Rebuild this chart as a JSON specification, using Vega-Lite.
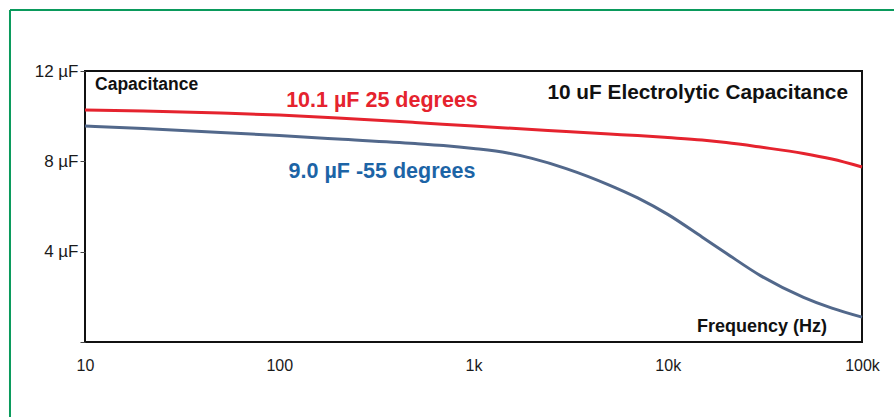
{
  "$schema": "https://vega.github.io/schema/vega-lite/v6.json",
  "autosize": {"type": "none"},
  "width": 777,
  "height": 271,
  "padding": {"left": 85, "top": 71, "right": 32, "bottom": 75},
  "background": "white",
  "config": {
    "font": "Liberation Sans",
    "view": {"stroke": "#111", "strokeWidth": 2},
    "axis": {"grid": false, "labelFont": "Liberation Sans", "labelColor": "#1a1a1a", "labelFontSize": 16}
  },
  "datasets": {
    "curves": [
      {"freq": 10, "cap": 10.27, "series": "25"},
      {"freq": 20, "cap": 10.23, "series": "25"},
      {"freq": 50, "cap": 10.14, "series": "25"},
      {"freq": 100, "cap": 10.05, "series": "25"},
      {"freq": 200, "cap": 9.92, "series": "25"},
      {"freq": 500, "cap": 9.72, "series": "25"},
      {"freq": 1000, "cap": 9.56, "series": "25"},
      {"freq": 2000, "cap": 9.41, "series": "25"},
      {"freq": 3000, "cap": 9.32, "series": "25"},
      {"freq": 5000, "cap": 9.21, "series": "25"},
      {"freq": 7000, "cap": 9.14, "series": "25"},
      {"freq": 10000, "cap": 9.05, "series": "25"},
      {"freq": 15000, "cap": 8.94, "series": "25"},
      {"freq": 20000, "cap": 8.83, "series": "25"},
      {"freq": 30000, "cap": 8.63, "series": "25"},
      {"freq": 50000, "cap": 8.35, "series": "25"},
      {"freq": 70000, "cap": 8.10, "series": "25"},
      {"freq": 100000, "cap": 7.75, "series": "25"},
      {"freq": 10, "cap": 9.56, "series": "-55"},
      {"freq": 20, "cap": 9.45, "series": "-55"},
      {"freq": 50, "cap": 9.28, "series": "-55"},
      {"freq": 100, "cap": 9.14, "series": "-55"},
      {"freq": 200, "cap": 8.99, "series": "-55"},
      {"freq": 500, "cap": 8.79, "series": "-55"},
      {"freq": 700, "cap": 8.70, "series": "-55"},
      {"freq": 1000, "cap": 8.57, "series": "-55"},
      {"freq": 1500, "cap": 8.37, "series": "-55"},
      {"freq": 2000, "cap": 8.13, "series": "-55"},
      {"freq": 3000, "cap": 7.68, "series": "-55"},
      {"freq": 5000, "cap": 6.95, "series": "-55"},
      {"freq": 7000, "cap": 6.38, "series": "-55"},
      {"freq": 10000, "cap": 5.65, "series": "-55"},
      {"freq": 15000, "cap": 4.65, "series": "-55"},
      {"freq": 20000, "cap": 3.93, "series": "-55"},
      {"freq": 30000, "cap": 2.94, "series": "-55"},
      {"freq": 50000, "cap": 1.98, "series": "-55"},
      {"freq": 70000, "cap": 1.50, "series": "-55"},
      {"freq": 100000, "cap": 1.10, "series": "-55"}
    ]
  },
  "layer": [
    {
      "data": {"name": "curves"},
      "mark": {"type": "line", "interpolate": "monotone", "strokeWidth": 3},
      "encoding": {
        "x": {
          "field": "freq", "type": "quantitative",
          "scale": {"type": "log", "domain": [10, 100000], "nice": false},
          "axis": {
            "title": null, "domain": false, "ticks": false, "labelPadding": 15,
            "values": [10, 100, 1000, 10000, 100000], "labelFlush": false,
            "labelExpr": "datum.value >= 1000 ? (datum.value / 1000) + 'k' : datum.value + ''"
          }
        },
        "y": {
          "field": "cap", "type": "quantitative",
          "scale": {"domain": [0, 12], "nice": false},
          "axis": {
            "title": null, "domain": false, "values": [0, 4, 8, 12], "labelFontSize": 17,
            "tickSize": 5, "tickColor": "#444", "tickWidth": 1, "labelPadding": 2,
            "labelExpr": "datum.value == 0 ? '' : datum.value + ' µF'"
          }
        },
        "detail": {"field": "series"},
        "color": {
          "field": "series", "type": "nominal",
          "scale": {"domain": ["25", "-55"], "range": ["#e5232e", "#52688b"]},
          "legend": null
        }
      }
    },
    {
      "data": {"values": [{}]},
      "mark": {"type": "text", "align": "left", "baseline": "middle", "fontWeight": "bold", "fontSize": 17.5, "color": "#111"},
      "encoding": {"x": {"datum": 11.26, "type": "quantitative"}, "y": {"datum": 11.38, "type": "quantitative"}, "text": {"value": "Capacitance"}}
    },
    {
      "data": {"values": [{}]},
      "mark": {"type": "text", "align": "right", "baseline": "middle", "fontWeight": "bold", "fontSize": 20.8, "color": "#111"},
      "encoding": {"x": {"datum": 84700, "type": "quantitative"}, "y": {"datum": 11.03, "type": "quantitative"}, "text": {"value": "10 uF Electrolytic Capacitance"}}
    },
    {
      "data": {"values": [{}]},
      "mark": {"type": "text", "align": "right", "baseline": "middle", "fontWeight": "bold", "fontSize": 18, "color": "#111"},
      "encoding": {"x": {"datum": 66100, "type": "quantitative"}, "y": {"datum": 0.66, "type": "quantitative"}, "text": {"value": "Frequency (Hz)"}}
    },
    {
      "data": {"values": [{}]},
      "mark": {"type": "text", "align": "center", "baseline": "middle", "fontWeight": "bold", "fontSize": 21.5, "color": "#e5232e"},
      "encoding": {"x": {"datum": 338, "type": "quantitative"}, "y": {"datum": 10.67, "type": "quantitative"}, "text": {"value": "10.1 µF 25 degrees"}}
    },
    {
      "data": {"values": [{}]},
      "mark": {"type": "text", "align": "center", "baseline": "middle", "fontWeight": "bold", "fontSize": 21.5, "color": "#1c64a6"},
      "encoding": {"x": {"datum": 338, "type": "quantitative"}, "y": {"datum": 7.51, "type": "quantitative"}, "text": {"value": "9.0 µF -55 degrees"}}
    },
    {
      "data": {"values": [{}]},
      "mark": {"type": "rule", "color": "#0a9a5c", "strokeWidth": 2},
      "encoding": {
        "x": {"datum": 4.11, "type": "quantitative"},
        "y": {"datum": 14.7, "type": "quantitative"},
        "x2": {"datum": 150000},
        "y2": {"datum": 14.7}
      }
    },
    {
      "data": {"values": [{}]},
      "mark": {"type": "rule", "color": "#0a9a5c", "strokeWidth": 2},
      "encoding": {
        "x": {"datum": 4.11, "type": "quantitative"},
        "y": {"datum": 14.7, "type": "quantitative"},
        "x2": {"datum": 4.11},
        "y2": {"datum": -3.5}
      }
    }
  ]
}
